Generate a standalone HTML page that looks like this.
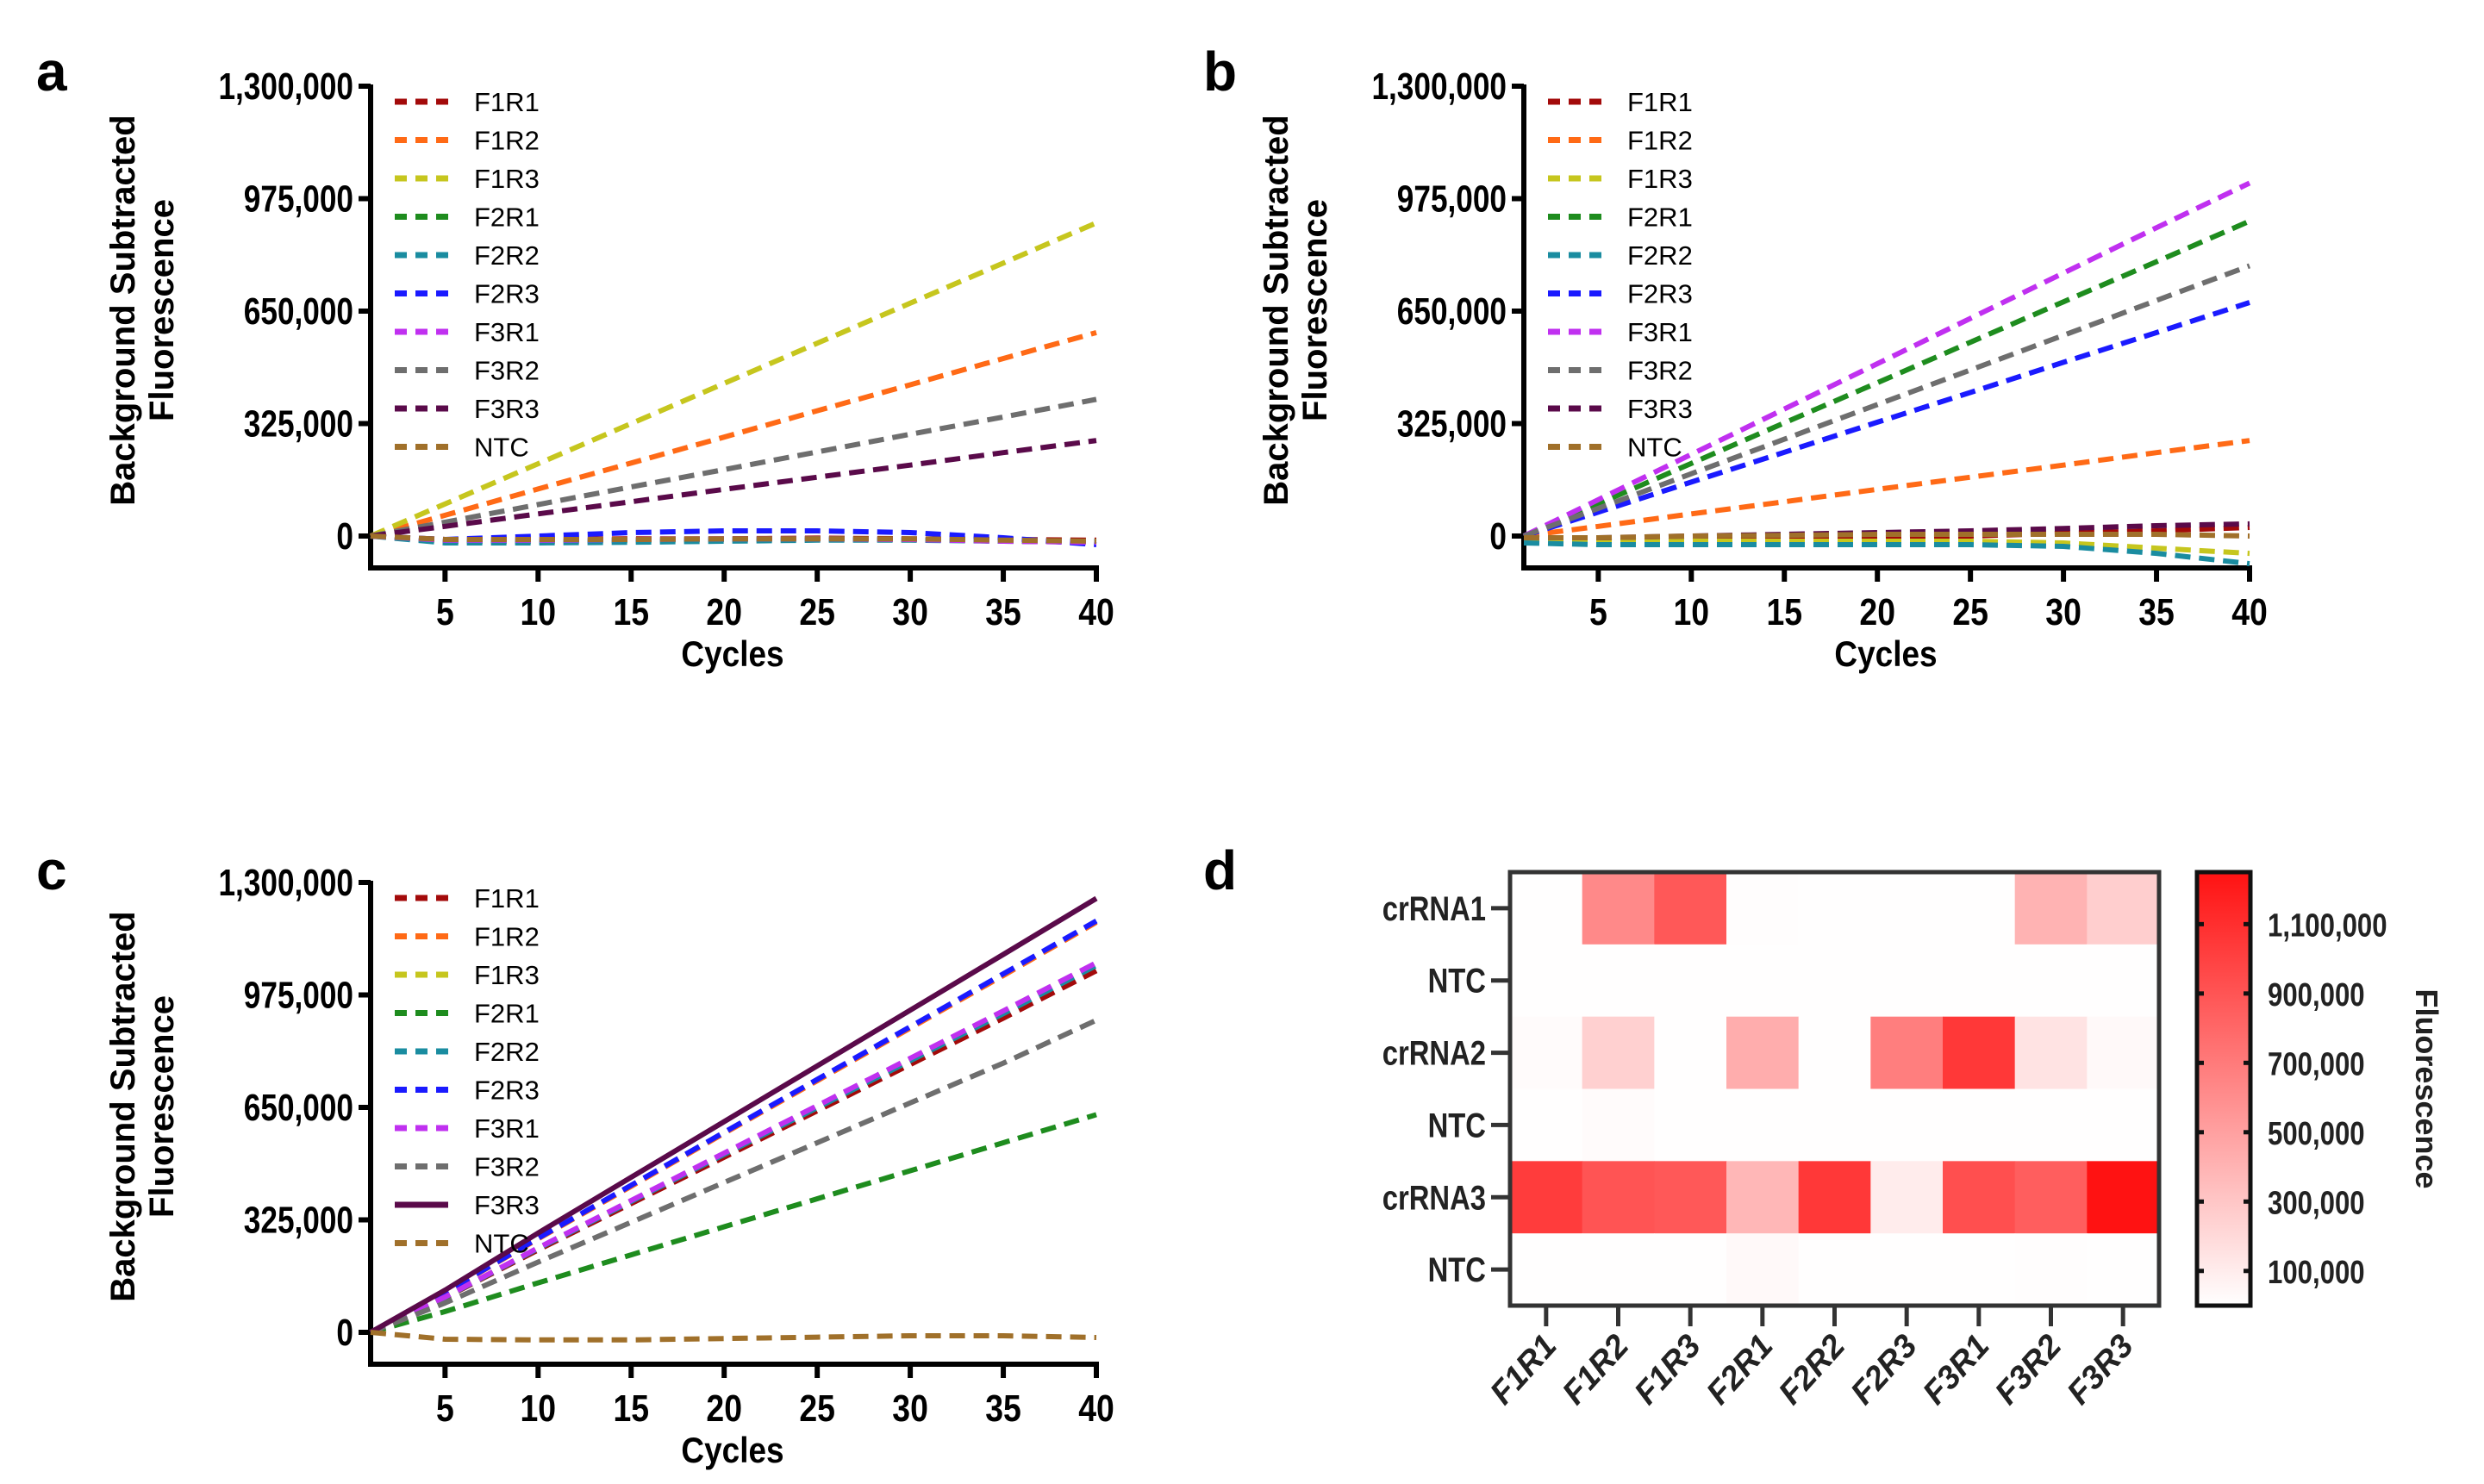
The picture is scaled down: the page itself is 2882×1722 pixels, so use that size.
<!DOCTYPE html>
<html><head><meta charset="utf-8"><style>
html,body{margin:0;padding:0;background:#fff;}
svg{display:block;}
text{font-family:"Liberation Sans",sans-serif;}
</style></head><body>
<svg id="fig" width="2882" height="1722" viewBox="0 0 2882 1722" xmlns="http://www.w3.org/2000/svg">
<text x="42" y="105" font-family="Liberation Serif" font-weight="bold" font-size="64">a</text>
<text x="1396" y="105" font-family="Liberation Serif" font-weight="bold" font-size="64">b</text>
<text x="42" y="1032" font-family="Liberation Serif" font-weight="bold" font-size="64">c</text>
<text x="1396" y="1032" font-family="Liberation Serif" font-weight="bold" font-size="64">d</text>
</svg>
<script>
const cycles = [1,5,10,15,20,25,30,35,40];
const seriesNames = ["F1R1","F1R2","F1R3","F2R1","F2R2","F2R3","F3R1","F3R2","F3R3","NTC"];
const seriesColors = ["#a30a0a","#ff6a16","#c6c61e","#1e8c1e","#1a8ca0","#1a1aff","#c030f0","#6e6e6e","#5a0a4a","#a0702a"];
const yTicks = [0,325000,650000,975000,1300000];
const yTickLabels = ["0","325,000","650,000","975,000","1,300,000"];
const xTicks = [5,10,15,20,25,30,35,40];
// panel a values (thousands)
const a_F1R1 = [0,-10,-10,-8,-8,-6,-8,-10,-12];
const a_F1R2 = [0,60,136,211,286,362,437,513,588];
const a_F1R3 = [0,93,209,325,441,557,673,789,905];
const a_F2R1 = [0,-15,-15,-12,-10,-8,-10,-15,-18];
const a_F2R2 = [0,-20,-20,-18,-15,-12,-12,-15,-15];
const a_F2R3 = [0,-10,0,10,15,15,10,-5,-25];
const a_F3R1 = [0,-12,-12,-10,-8,-8,-10,-15,-18];
const a_F3R2 = [0,40,91,142,192,243,294,344,395];
const a_F3R3 = [0,28,64,99,135,170,205,241,276];
const a_NTC  = [0,-10,-10,-10,-8,-8,-8,-12,-15];
// panel b
const b_F1R1 = [-15,-15,-12,-8,-5,0,8,15,25];
const b_F1R2 = [0,28,64,99,135,170,205,241,276];
const b_F1R3 = [-15,-15,-15,-15,-15,-15,-20,-35,-50];
const b_F2R1 = [0,93,210,327,443,560,677,793,910];
const b_F2R2 = [-20,-25,-25,-25,-25,-25,-30,-50,-80];
const b_F2R3 = [0,69,156,242,329,415,502,588,675];
const b_F3R1 = [0,105,236,367,498,629,760,891,1020];
const b_F3R2 = [0,80,180,280,380,480,580,681,781];
const b_F3R3 = [-5,-5,0,5,10,15,22,30,35];
const b_NTC  = [-5,-5,0,2,5,5,5,5,0];
// panel c
const c_F1R1 = [0,100,238,372,506,640,774,908,1045];
const c_F1R2 = [0,115,270,422,575,727,879,1031,1185];
const c_F1R3 = [0,102,243,379,516,652,789,925,1065];
const c_F2R1 = [0,60,143,224,305,386,467,548,629];
const c_F2R2 = [0,101,242,378,514,649,785,921,1060];
const c_F2R3 = [0,116,272,425,578,731,883,1036,1189];
const c_F3R1 = [0,102,244,381,518,655,792,929,1068];
const c_F3R2 = [0,85,203,318,433,548,663,778,902];
const c_F3R3 = [0,122,287,448,609,770,931,1092,1254];
const c_NTC  = [0,-20,-22,-22,-18,-14,-10,-10,-15];
// heatmap d (values)
const heatCols = ["F1R1","F1R2","F1R3","F2R1","F2R2","F2R3","F3R1","F3R2","F3R3"];
const heatRows = ["crRNA1","NTC","crRNA2","NTC","crRNA3","NTC"];
const heat_crRNA1 = [5000,620000,880000,8000,6000,3000,3000,400000,260000];
const heat_NTC1   = [3000,3000,3000,3000,3000,3000,3000,6000,3000];
const heat_crRNA2 = [20000,250000,3000,430000,3000,680000,1050000,150000,30000];
const heat_NTC2   = [3000,20000,3000,3000,3000,3000,3000,3000,3000];
const heat_crRNA3 = [1030000,900000,880000,380000,1050000,100000,930000,850000,1250000];
const heat_NTC3   = [3000,3000,3000,30000,3000,3000,3000,10000,3000];
const cbTicks = [100000,300000,500000,700000,900000,1100000];
const cbTickLabels = ["100,000","300,000","500,000","700,000","900,000","1,100,000"];

const NS="http://www.w3.org/2000/svg";
const svg=document.getElementById('fig');
function el(tag,attrs,parent){const e=document.createElementNS(NS,tag);for(const k in attrs)e.setAttribute(k,attrs[k]);(parent||svg).appendChild(e);return e;}

function drawPanel(id,ox,oy,data,solidIdx){
  const x0=ox, x1=ox+842, yTop=oy-522, axisY=oy+37;
  const sx=c=>x0+(c-1)*(x1-x0)/39;
  const sy=v=>oy-(v/1300000)*(oy-yTop);
  const g=el('g',{});
  
  
  const ya=el('line',{x1:x0,y1:yTop-2,x2:x0,y2:axisY+2,stroke:'#000','stroke-width':6},g);
   
  const xa=el('line',{x1:x0-3,y1:axisY,x2:x1+3,y2:axisY,stroke:'#000','stroke-width':6},g);
   
  yTicks.forEach((v,i)=>{
    el('line',{x1:x0-14,y1:sy(v),x2:x0,y2:sy(v),stroke:'#000','stroke-width':6},g);
    const t=el('text',{x:x0-20,y:sy(v)+15,'text-anchor':'end','font-size':44,'font-weight':'bold',transform:`translate(${x0-20},0) scale(0.8,1) translate(${-(x0-20)},0)`},g);
    t.textContent=yTickLabels[i];
     
  });
  xTicks.forEach(c=>{
    el('line',{x1:sx(c),y1:axisY,x2:sx(c),y2:axisY+16,stroke:'#000','stroke-width':6},g);
    const t=el('text',{x:sx(c),y:axisY+66,'text-anchor':'middle','font-size':44,'font-weight':'bold',transform:`translate(${sx(c)},0) scale(0.85,1) translate(${-sx(c)},0)`},g);
    t.textContent=c;
     
  });
  const xt=el('text',{x:x0+420,y:axisY+114,'text-anchor':'middle','font-size':42,'font-weight':'bold',transform:`translate(${x0+420},0) scale(0.88,1) translate(${-(x0+420)},0)`},g);
  xt.textContent='Cycles';
   
  const yt=el('text',{transform:`translate(${x0-274},${oy-262}) rotate(-90)`,'text-anchor':'middle','font-size':40,'font-weight':'bold'},g);
   
  const t1=el('tspan',{x:0,y:0},yt); t1.textContent='Background Subtracted';
  const t2=el('tspan',{x:0,y:45},yt); t2.textContent='Fluorescence';
  data.forEach((arr,i)=>{
    const pts=arr.map((v,k)=>sx(cycles[k]).toFixed(1)+','+sy(v*1000).toFixed(1)).join(' ');
    const p=el('polyline',{points:pts,fill:'none',stroke:seriesColors[i],'stroke-width':6,'stroke-linejoin':'round'},g);
    if(i!==solidIdx) p.setAttribute('stroke-dasharray','18 10');
    
    
  });
  seriesNames.forEach((n,i)=>{
    const ly=yTop+18+i*44.5;
    const lg=el('g',{},g);
    
    
    const l=el('line',{x1:x0+28,y1:ly,x2:x0+90,y2:ly,stroke:seriesColors[i],'stroke-width':7},lg);
    if(i!==solidIdx) l.setAttribute('stroke-dasharray','14 10');
    const t=el('text',{x:x0+120,y:ly+11,'font-size':31},lg);
    t.textContent=n;
  });
}
drawPanel('a',430,622,[a_F1R1,a_F1R2,a_F1R3,a_F2R1,a_F2R2,a_F2R3,a_F3R1,a_F3R2,a_F3R3,a_NTC],-1);
drawPanel('b',1768,622,[b_F1R1,b_F1R2,b_F1R3,b_F2R1,b_F2R2,b_F2R3,b_F3R1,b_F3R2,b_F3R3,b_NTC],-1);
drawPanel('c',430,1546,[c_F1R1,c_F1R2,c_F1R3,c_F2R1,c_F2R2,c_F2R3,c_F3R1,c_F3R2,c_F3R3,c_NTC],8);

(function(){
  const hx0=1752,hy0=1012,hx1=2505,hy1=1515,vmax=1260000;
  const cw=(hx1-hx0)/heatCols.length, rh=(hy1-hy0)/heatRows.length;
  const col=v=>{const t=Math.max(0,Math.min(1,v/vmax));const gb=Math.round(255-t*(255-16));return `rgb(255,${gb},${gb})`;};
  const g=el('g',{});
   
  const rowsData=[heat_crRNA1,heat_NTC1,heat_crRNA2,heat_NTC2,heat_crRNA3,heat_NTC3];
  rowsData.forEach((row,r)=>{
    row.forEach((v,c)=>{
      const cell=el('rect',{x:hx0+c*cw,y:hy0+r*rh,width:cw+0.6,height:rh+0.6,fill:col(v)},g);
       
    });
    const cy=hy0+(r+0.5)*rh;
    el('line',{x1:hx0-22,y1:cy,x2:hx0,y2:cy,stroke:'#333','stroke-width':5},g);
    const t=el('text',{x:hx0-28,y:cy+14,'text-anchor':'end','font-size':40,'font-weight':'bold',fill:'#222',transform:`translate(${hx0-28},0) scale(0.82,1) translate(${-(hx0-28)},0)`},g);
    t.textContent=heatRows[r];
     
  });
  const b=el('rect',{x:hx0,y:hy0,width:hx1-hx0,height:hy1-hy0,fill:'none',stroke:'#333','stroke-width':5},g);
   
  heatCols.forEach((n,c)=>{
    const cx=hx0+(c+0.5)*cw;
    el('line',{x1:cx,y1:hy1,x2:cx,y2:hy1+24,stroke:'#333','stroke-width':5},g);
    const t=el('text',{transform:`translate(${cx+14},${hy1+48}) rotate(-48)`,'text-anchor':'end','font-size':38,'font-weight':'bold','font-style':'italic',fill:'#222'},g);
    t.textContent=n;
     
  });
  const cbx=2549,cbw=62;
  const defs=el('defs',{},g);
  const lg=el('linearGradient',{id:'cbg',x1:0,y1:1,x2:0,y2:0},defs);
  el('stop',{offset:0,'stop-color':col(0)},lg);
  el('stop',{offset:1,'stop-color':col(1250000)},lg);
  const cb=el('rect',{x:cbx,y:hy0,width:cbw,height:hy1-hy0,fill:'url(#cbg)',stroke:'#111','stroke-width':5},g);
   
  const cy=v=>hy1-(v/1250000)*(hy1-hy0);
  cbTicks.forEach((v,i)=>{
    el('line',{x1:cbx,y1:cy(v),x2:cbx+8,y2:cy(v),stroke:'#111','stroke-width':5},g);
    el('line',{x1:cbx+cbw-8,y1:cy(v),x2:cbx+cbw,y2:cy(v),stroke:'#111','stroke-width':5},g);
    const t=el('text',{x:cbx+cbw+20,y:cy(v)+14,'font-size':38,'font-weight':'bold',fill:'#222',transform:`translate(${cbx+cbw+20},0) scale(0.82,1) translate(${-(cbx+cbw+20)},0)`},g);
    t.textContent=cbTickLabels[i];
     
  });
  const ft=el('text',{transform:`translate(2803,${(hy0+hy1)/2}) rotate(90)`,'text-anchor':'middle','font-size':36,'font-weight':'bold',fill:'#222'},g);
  ft.textContent='Fluorescence';
   
})();
</script>
</body></html>
